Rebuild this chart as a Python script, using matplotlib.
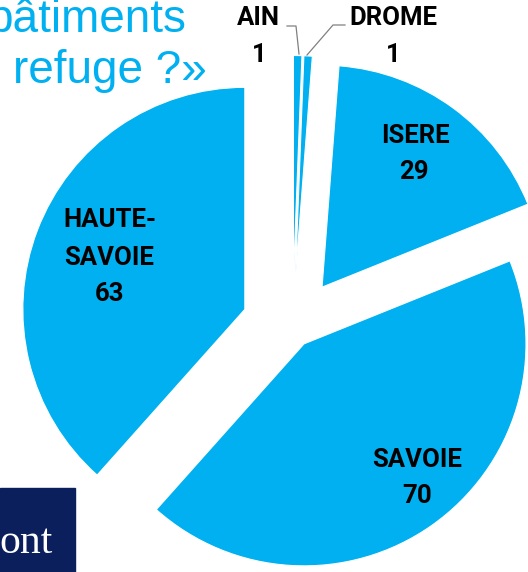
import matplotlib.pyplot as plt

# donnees du camembert (sens horaire depuis midi)
departements = ['AIN', 'DROME', 'ISERE', 'SAVOIE', 'HAUTE-SAVOIE']
nombres = [1, 1, 29, 70, 63]
eclatement = [50, 50, 50, 20, 51]

bleu = '#00B0F0'
W, H = 528, 572


def py(y):
    # coordonnees pixel (haut = 0) -> coordonnees donnees
    return H - y


fig = plt.figure(figsize=(W / 100, H / 100), dpi=100)
ax = fig.add_axes([0, 0, 1, 1])

ax.pie(nombres, explode=eclatement, radius=222, center=(292.5, py(327.5)),
       startangle=90, counterclock=False, colors=[bleu] * len(nombres),
       wedgeprops=dict(edgecolor='white', linewidth=0.8))

ax.set_xlim(0, W)
ax.set_ylim(0, H)
ax.set_aspect('equal')
ax.axis('off')

lbl = dict(fontfamily='Roboto', fontweight='bold', fontsize=18.5, color='black',
           ha='center', va='center')

# etiquettes
ax.text(258, py(18), 'AIN', **lbl)
ax.text(259, py(55), str(nombres[0]), **lbl)
ax.text(393, py(18), 'DROME', **lbl)
ax.text(393, py(55), str(nombres[1]), **lbl)
ax.text(415, py(136), 'ISERE', **lbl)
ax.text(414, py(172), str(nombres[2]), **lbl)
ax.text(417, py(460), 'SAVOIE', **lbl)
ax.text(417, py(496), str(nombres[3]), **lbl)
ax.text(110, py(220), 'HAUTE-', **lbl)
ax.text(109, py(258), 'SAVOIE', **lbl)
ax.text(110, py(294), str(nombres[4]), **lbl)

# traits de rappel
ax.plot([287, 296, 299], [py(26), py(26), py(54)], color='#808080', lw=0.9)
ax.plot([345, 333, 307], [py(25), py(25), py(55)], color='#808080', lw=0.9)

# titre (coupe)
ax.text(186, py(32), 'bâtiments', fontfamily='Liberation Sans', fontsize=33,
        color=bleu, ha='right', va='baseline')
ax.text(207, py(83), 'refuge ?»', fontfamily='Liberation Sans', fontsize=33,
        color=bleu, ha='right', va='baseline')

# logo en bas a gauche
ax.add_patch(plt.Rectangle((0, 0), 75, py(488), color='#0A1F5C', zorder=3))
ax.text(53, py(553), 'ont', fontfamily='Liberation Serif', fontsize=30,
        color='white', ha='right', va='baseline', zorder=4)

fig.savefig('out.png', dpi=100)
